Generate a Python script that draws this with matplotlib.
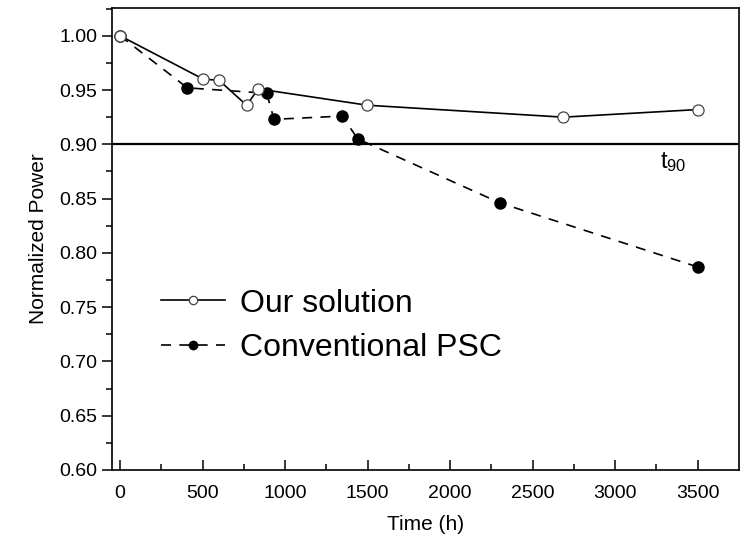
import matplotlib
matplotlib.use("Agg")
import matplotlib.pyplot as plt
from matplotlib.ticker import MultipleLocator, FormatStrFormatter

# Дані
time_ours = [0, 505, 600, 767, 838, 1498, 2686, 3500]
power_ours = [1.000, 0.960, 0.959, 0.936, 0.951, 0.936, 0.925, 0.932]

time_psc = [0, 408, 889, 933, 1347, 1440, 2302, 3500]
power_psc = [1.000, 0.952, 0.947, 0.923, 0.926, 0.905, 0.846, 0.787]

t90_level = 0.90

plt.rcParams["font.family"] = ["Liberation Sans", "DejaVu Sans"]
plt.rcParams["mathtext.fontset"] = "custom"
plt.rcParams["mathtext.rm"] = "Liberation Sans"

fig = plt.figure(figsize=(7.42, 5.37), dpi=100)
ax = fig.add_axes([0.151, 0.1248, 0.8445, 0.8602])

# лінія рівня t90
ax.axhline(t90_level, color="black", lw=1.6, zorder=1)

ax.plot(time_ours, power_ours, color="black", lw=1.2, marker="o",
        markersize=8, markerfacecolor="white", markeredgecolor="#444444",
        markeredgewidth=0.9, label="Our solution", zorder=3)
ax.plot(time_psc, power_psc, color="black", lw=1.2, ls=(0, (6, 5)),
        marker="o", markersize=8, markerfacecolor="black",
        label="Conventional PSC", zorder=2)

ax.set_xlim(-48, 3748)
ax.set_ylim(0.60, 1.0255)

ax.xaxis.set_major_locator(MultipleLocator(500))
ax.xaxis.set_minor_locator(MultipleLocator(250))
ax.yaxis.set_major_locator(MultipleLocator(0.05))
ax.yaxis.set_minor_locator(MultipleLocator(0.025))
ax.yaxis.set_major_formatter(FormatStrFormatter("%.2f"))

ax.tick_params(axis="x", which="major", direction="in", length=7, width=1.1,
               labelsize=14, pad=11)
ax.tick_params(axis="x", which="minor", direction="in", length=4, width=1.1)
ax.tick_params(axis="y", which="major", direction="out", length=7, width=1.1,
               labelsize=14)
ax.tick_params(axis="y", which="minor", direction="out", length=4, width=1.1)

for s in ax.spines.values():
    s.set_linewidth(1.2)

ax.set_xlabel("Time (h)", fontsize=15, labelpad=9)
ax.set_ylabel("Normalized Power", fontsize=15, labelpad=8)

ax.text(3270, 0.884, r"$\mathregular{t_{90}}$", fontsize=17,
        ha="left", va="center")

leg = ax.legend(loc="upper left", bbox_to_anchor=(0.033, 0.455), frameon=False,
                prop={"size": 23},
                handlelength=2.0, handletextpad=0.45, labelspacing=0.45,
                markerscale=0.75)

fig.savefig("out.png", dpi=100)
